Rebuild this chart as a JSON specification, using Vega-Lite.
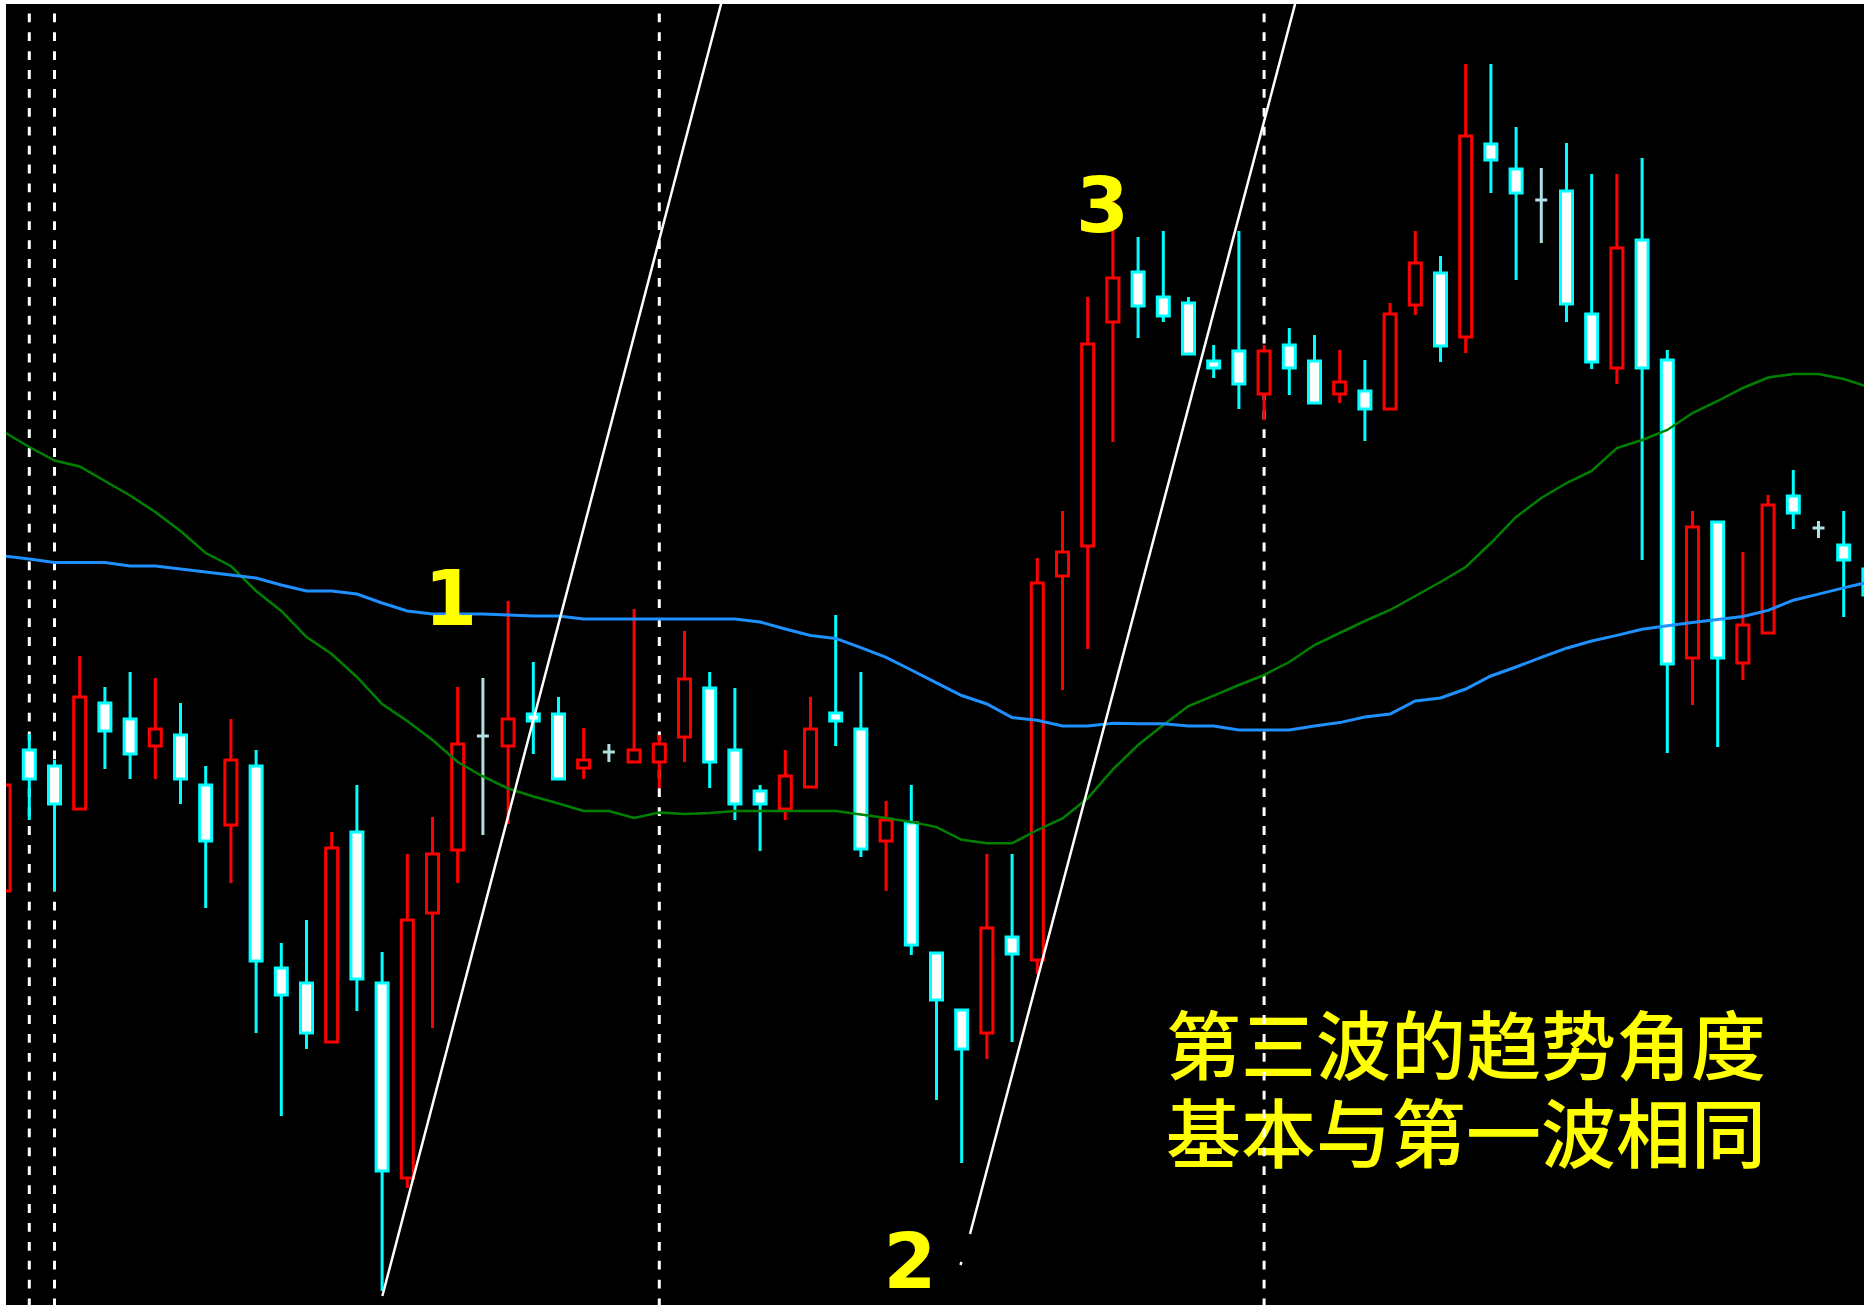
{
  "$schema": "https://vega.github.io/schema/vega-lite/v6.json",
  "width": 1858,
  "height": 1301,
  "padding": {"left": 6, "top": 4, "right": 0, "bottom": 0},
  "autosize": {"type": "none"},
  "background": "#FFFFFF",
  "config": {"view": {"fill": "#000000", "stroke": null}, "scale": {"continuousPadding": 0}},
  "datasets": {
    "candles": [
      {"i":0,"open":414,"high":520,"low":414,"close":520,"ma_g":873,"ma_b":749},
      {"i":1,"open":555,"high":571,"low":485,"close":526,"ma_g":858,"ma_b":746},
      {"i":2,"open":539,"high":545,"low":414,"close":501,"ma_g":844.5,"ma_b":742.5},
      {"i":3,"open":496,"high":649,"low":496,"close":608,"ma_g":838.5,"ma_b":742.5},
      {"i":4,"open":602,"high":618,"low":536,"close":574,"ma_g":824,"ma_b":742.5},
      {"i":5,"open":586,"high":633,"low":526,"close":551,"ma_g":809.5,"ma_b":739},
      {"i":6,"open":559,"high":627,"low":526,"close":576,"ma_g":793,"ma_b":739},
      {"i":7,"open":570,"high":602,"low":501,"close":526,"ma_g":774,"ma_b":736},
      {"i":8,"open":520,"high":539,"low":397,"close":464,"ma_g":752,"ma_b":733},
      {"i":9,"open":480,"high":586,"low":422,"close":545,"ma_g":739,"ma_b":730},
      {"i":10,"open":539,"high":555,"low":272,"close":344,"ma_g":714,"ma_b":727},
      {"i":11,"open":337,"high":362,"low":189,"close":310,"ma_g":694,"ma_b":720},
      {"i":12,"open":322,"high":385,"low":256,"close":272,"ma_g":668,"ma_b":714},
      {"i":13,"open":263,"high":473,"low":263,"close":457,"ma_g":651,"ma_b":714},
      {"i":14,"open":473,"high":520,"low":294,"close":326,"ma_g":628,"ma_b":711},
      {"i":15,"open":322,"high":353,"low":14,"close":134,"ma_g":601,"ma_b":702},
      {"i":16,"open":127,"high":451,"low":117,"close":385,"ma_g":584,"ma_b":694},
      {"i":17,"open":392,"high":488,"low":277,"close":451,"ma_g":565,"ma_b":691},
      {"i":18,"open":455,"high":618,"low":422,"close":561,"ma_g":543,"ma_b":691},
      {"i":19,"open":569,"high":627,"low":470,"close":569,"ma_g":528.5,"ma_b":691},
      {"i":20,"open":559,"high":704,"low":481,"close":586,"ma_g":516.5,"ma_b":690},
      {"i":21,"open":591,"high":643,"low":551,"close":584,"ma_g":508.5,"ma_b":689},
      {"i":22,"open":591,"high":608,"low":526,"close":526,"ma_g":501.5,"ma_b":689},
      {"i":23,"open":537,"high":577,"low":526,"close":545,"ma_g":494,"ma_b":686},
      {"i":24,"open":553,"high":561,"low":543,"close":553,"ma_g":494,"ma_b":686},
      {"i":25,"open":543,"high":696,"low":543,"close":555,"ma_g":487,"ma_b":686},
      {"i":26,"open":543,"high":570,"low":517,"close":561,"ma_g":492.5,"ma_b":686},
      {"i":27,"open":568,"high":674,"low":543,"close":626,"ma_g":491,"ma_b":686},
      {"i":28,"open":617,"high":633,"low":517,"close":543,"ma_g":492,"ma_b":686},
      {"i":29,"open":555,"high":617,"low":485,"close":501,"ma_g":494,"ma_b":686},
      {"i":30,"open":514,"high":520,"low":454,"close":501,"ma_g":494,"ma_b":683},
      {"i":31,"open":496,"high":555,"low":485,"close":529,"ma_g":494,"ma_b":676},
      {"i":32,"open":518,"high":608,"low":518,"close":576,"ma_g":494,"ma_b":669.5},
      {"i":33,"open":592,"high":690,"low":559,"close":584,"ma_g":494,"ma_b":666.6},
      {"i":34,"open":576,"high":633,"low":448,"close":456,"ma_g":490.6,"ma_b":657.4},
      {"i":35,"open":464,"high":504,"low":414,"close":485,"ma_g":487.1,"ma_b":647.6},
      {"i":36,"open":482,"high":520,"low":350,"close":360,"ma_g":483.1,"ma_b":635},
      {"i":37,"open":352,"high":352,"low":205,"close":305,"ma_g":477.9,"ma_b":622.2},
      {"i":38,"open":295,"high":295,"low":142,"close":256,"ma_g":465.2,"ma_b":609.5},
      {"i":39,"open":272,"high":451,"low":246,"close":377,"ma_g":461.7,"ma_b":601},
      {"i":40,"open":368,"high":451,"low":263,"close":351,"ma_g":461.7,"ma_b":587.5},
      {"i":41,"open":345,"high":747,"low":331,"close":722,"ma_g":475,"ma_b":584.7},
      {"i":42,"open":729,"high":794,"low":615,"close":753,"ma_g":486.5,"ma_b":579},
      {"i":43,"open":759,"high":1008,"low":656,"close":961,"ma_g":506.7,"ma_b":579},
      {"i":44,"open":983,"high":1105,"low":863,"close":1027,"ma_g":535.6,"ma_b":581.8},
      {"i":45,"open":1033,"high":1068,"low":967,"close":999,"ma_g":560,"ma_b":581.3},
      {"i":46,"open":1008,"high":1074,"low":983,"close":989,"ma_g":580,"ma_b":581.3},
      {"i":47,"open":1002,"high":1008,"low":951,"close":951,"ma_g":599,"ma_b":579},
      {"i":48,"open":944,"high":960,"low":927,"close":937,"ma_g":609.4,"ma_b":579},
      {"i":49,"open":954,"high":1074,"low":896,"close":921,"ma_g":620,"ma_b":575},
      {"i":50,"open":911,"high":960,"low":885,"close":954,"ma_g":630,"ma_b":575},
      {"i":51,"open":960,"high":977,"low":910,"close":937,"ma_g":643,"ma_b":575},
      {"i":52,"open":944,"high":970,"low":902,"close":902,"ma_g":660,"ma_b":579},
      {"i":53,"open":911,"high":955,"low":902,"close":923,"ma_g":672,"ma_b":582.4},
      {"i":54,"open":914,"high":945,"low":864,"close":896,"ma_g":684,"ma_b":588},
      {"i":55,"open":896,"high":1002,"low":896,"close":991,"ma_g":695,"ma_b":591},
      {"i":56,"open":1000,"high":1074,"low":990,"close":1042,"ma_g":709,"ma_b":604},
      {"i":57,"open":1032,"high":1049,"low":943,"close":959,"ma_g":723,"ma_b":607},
      {"i":58,"open":968,"high":1241,"low":952,"close":1169,"ma_g":738,"ma_b":616},
      {"i":59,"open":1161,"high":1241,"low":1112,"close":1145,"ma_g":762,"ma_b":629},
      {"i":60,"open":1136,"high":1178,"low":1025,"close":1112,"ma_g":788,"ma_b":638},
      {"i":61,"open":1105,"high":1137,"low":1062,"close":1105,"ma_g":807,"ma_b":647.6},
      {"i":62,"open":1114,"high":1162,"low":983,"close":1001,"ma_g":822,"ma_b":656.8},
      {"i":63,"open":991,"high":1131,"low":936,"close":943,"ma_g":834,"ma_b":664},
      {"i":64,"open":937,"high":1131,"low":921,"close":1057,"ma_g":857,"ma_b":669.6},
      {"i":65,"open":1065,"high":1147,"low":745,"close":937,"ma_g":865,"ma_b":675.7},
      {"i":66,"open":945,"high":955,"low":552,"close":641,"ma_g":875,"ma_b":679.3},
      {"i":67,"open":647,"high":794,"low":600,"close":778,"ma_g":892,"ma_b":682.4},
      {"i":68,"open":783,"high":783,"low":558,"close":647,"ma_g":904,"ma_b":685.4},
      {"i":69,"open":642,"high":753,"low":625,"close":680,"ma_g":917,"ma_b":688.5},
      {"i":70,"open":672,"high":810,"low":672,"close":800,"ma_g":927.5,"ma_b":694.6},
      {"i":71,"open":809,"high":835,"low":776,"close":792,"ma_g":931,"ma_b":704.8},
      {"i":72,"open":777,"high":784,"low":767,"close":777,"ma_g":931,"ma_b":710.9},
      {"i":73,"open":760,"high":794,"low":688,"close":745,"ma_g":926,"ma_b":717.1},
      {"i":74,"open":736,"high":752,"low":695,"close":710,"ma_g":918,"ma_b":723}
    ],
    "vlines": [{"i":1},{"i":2},{"i":26},{"i":50}],
    "trend": [
      {"line":"A","i":15.01,"p":9},
      {"line":"A","i":28.45,"p":1301},
      {"line":"B","i":38.33,"p":71},
      {"line":"B","i":51.23,"p":1301},
      {"line":"C","i":37.95,"p":40},
      {"line":"C","i":37.99,"p":43}
    ],
    "labels": [
      {"text":"1","i":17.72,"p":680},
      {"text":"2","i":35.95,"p":17},
      {"text":"3","i":43.59,"p":1073}
    ],
    "notes": [
      {"text":"第三波的趋势角度","i":46.11,"p":231.5},
      {"text":"基本与第一波相同","i":46.11,"p":143}
    ]
  },
  "layer": [
    {
      "data": {"name": "notes"},
      "mark": {"type": "text", "font": "Noto Sans CJK SC", "fontWeight": 500, "fontSize": 75, "align": "left", "baseline": "alphabetic", "color": "#FFFF00"},
      "encoding": {
        "x": {"field": "i", "type": "quantitative", "scale": {"domain": [0.0754, 73.806], "nice": false, "zero": false, "padding": 0}, "axis": null},
        "y": {"field": "p", "type": "quantitative", "scale": {"domain": [0, 1301], "nice": false, "zero": false, "padding": 0}, "axis": null},
        "text": {"field": "text"}
      }
    },
    {
      "data": {"name": "vlines"},
      "mark": {"type": "rule", "color": "#FFFFFF", "strokeWidth": 3, "strokeDash": [8.8, 10.1], "strokeDashOffset": 9.5, "clip": true},
      "encoding": {
        "x": {"field": "i", "type": "quantitative", "scale": {"domain": [0.0754, 73.806], "nice": false, "zero": false, "padding": 0}, "axis": null},
        "y": {"datum": 1301, "type": "quantitative", "scale": {"domain": [0, 1301], "nice": false, "zero": false, "padding": 0}, "axis": null},
        "y2": {"datum": 0}
      }
    },
    {
      "data": {"name": "candles"},
      "mark": {"type": "rule", "strokeWidth": 3, "clip": true},
      "encoding": {
        "x": {"field": "i", "type": "quantitative", "scale": {"domain": [0.0754, 73.806], "nice": false, "zero": false, "padding": 0}, "axis": null},
        "y": {"field": "low", "type": "quantitative", "scale": {"domain": [0, 1301], "nice": false, "zero": false, "padding": 0}, "axis": null},
        "y2": {"field": "high"},
        "color": {"condition": [{"test": "datum.close > datum.open", "value": "#FF0000"}, {"test": "datum.close < datum.open", "value": "#00FFFF"}], "value": "#B0E0E6"}
      }
    },
    {
      "data": {"name": "candles"},
      "mark": {"type": "bar", "width": 12, "strokeWidth": 3, "clip": true},
      "encoding": {
        "x": {"field": "i", "type": "quantitative", "scale": {"domain": [0.0754, 73.806], "nice": false, "zero": false, "padding": 0}, "axis": null},
        "y": {"field": "open", "type": "quantitative", "scale": {"domain": [0, 1301], "nice": false, "zero": false, "padding": 0}, "axis": null},
        "y2": {"field": "close"},
        "fill": {"condition": [{"test": "datum.close > datum.open", "value": "#000000"}, {"test": "datum.close < datum.open", "value": "#FFFFFF"}], "value": "#B0E0E6"},
        "stroke": {"condition": [{"test": "datum.close > datum.open", "value": "#FF0000"}, {"test": "datum.close < datum.open", "value": "#00FFFF"}], "value": "#B0E0E6"}
      }
    },
    {
      "data": {"name": "candles"},
      "mark": {"type": "line", "color": "#008000", "strokeWidth": 2.5, "clip": true},
      "encoding": {
        "x": {"field": "i", "type": "quantitative", "scale": {"domain": [0.0754, 73.806], "nice": false, "zero": false, "padding": 0}, "axis": null},
        "y": {"field": "ma_g", "type": "quantitative", "scale": {"domain": [0, 1301], "nice": false, "zero": false, "padding": 0}, "axis": null}
      }
    },
    {
      "data": {"name": "candles"},
      "mark": {"type": "line", "color": "#1E90FF", "strokeWidth": 3, "clip": true},
      "encoding": {
        "x": {"field": "i", "type": "quantitative", "scale": {"domain": [0.0754, 73.806], "nice": false, "zero": false, "padding": 0}, "axis": null},
        "y": {"field": "ma_b", "type": "quantitative", "scale": {"domain": [0, 1301], "nice": false, "zero": false, "padding": 0}, "axis": null}
      }
    },
    {
      "data": {"name": "trend"},
      "mark": {"type": "line", "color": "#FFFFFF", "strokeWidth": 2.5, "clip": true},
      "encoding": {
        "x": {"field": "i", "type": "quantitative", "scale": {"domain": [0.0754, 73.806], "nice": false, "zero": false, "padding": 0}, "axis": null},
        "y": {"field": "p", "type": "quantitative", "scale": {"domain": [0, 1301], "nice": false, "zero": false, "padding": 0}, "axis": null},
        "detail": {"field": "line"}
      }
    },
    {
      "data": {"name": "labels"},
      "mark": {"type": "text", "font": "DejaVu Sans", "fontWeight": "bold", "fontSize": 76, "align": "center", "baseline": "alphabetic", "color": "#FFFF00"},
      "encoding": {
        "x": {"field": "i", "type": "quantitative", "scale": {"domain": [0.0754, 73.806], "nice": false, "zero": false, "padding": 0}, "axis": null},
        "y": {"field": "p", "type": "quantitative", "scale": {"domain": [0, 1301], "nice": false, "zero": false, "padding": 0}, "axis": null},
        "text": {"field": "text"}
      }
    }
  ]
}
